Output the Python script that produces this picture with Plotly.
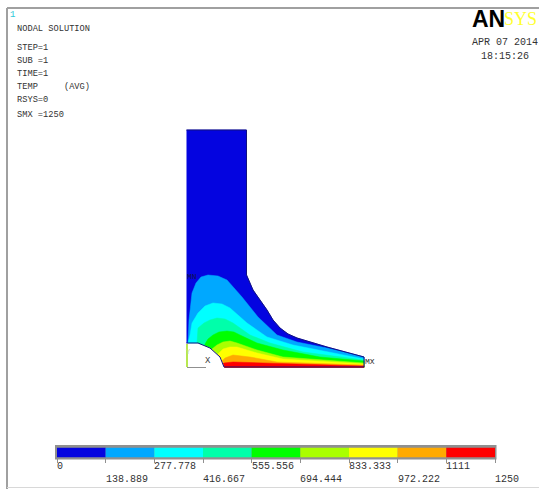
import plotly.graph_objects as go

# Contour levels and colours
level_edges = [0, 138.889, 277.778, 416.667, 555.556, 694.444, 833.333, 972.222, 1111, 1250]
band_colors = ["#0404e0", "#00a8ff", "#00ffff", "#00ffaa", "#00ff00", "#aaff00", "#ffff00", "#ffaa00", "#ff0000"]

# Outer part outline (picture coordinates)
outline_x = [186.5, 246.5, 246.5, 250, 253, 260, 267, 273, 280, 288, 297, 327, 364, 364, 224, 220, 210, 198, 186.5]
outline_y = [130, 130, 275, 283, 290, 300, 310, 320, 328, 334, 338, 347, 357, 367, 367, 357, 348, 343, 343]

# Isotherm boundaries, one per level above the lowest
iso_x = [
    [188, 189, 192, 196, 201, 208, 218, 227, 242, 258, 277, 297, 327, 364],
    [188, 190, 192, 198, 205, 213, 222, 230, 247, 267, 293, 327, 364],
    [197, 198, 204, 210, 217, 225, 233, 250, 270, 303, 364],
    [205, 208, 213, 219, 227, 234, 240, 257, 283, 320, 364],
    [212, 217, 223, 230, 237, 257, 283, 364],
    [218, 223, 230, 237, 257, 283, 364],
    [222, 225, 233, 250, 277, 364],
    [224, 233, 364],
]
iso_y = [
    [343, 320, 293, 283, 277, 275, 276, 280, 297, 317, 335, 342, 348, 357],
    [343, 335, 323, 313, 306, 303, 304, 308, 323, 337, 345, 352, 359],
    [343, 328, 323, 320, 318, 319, 323, 335, 343, 352, 360],
    [344, 339, 335, 332, 331, 332, 335, 343, 350, 357, 361],
    [349, 345, 342, 341, 343, 350, 357, 363],
    [354, 349, 347, 347, 353, 359, 364],
    [361, 358, 355, 357, 362, 365],
    [363, 362, 366],
]

# Uncovered notch under the part
notch_x = [187, 198, 210, 220, 224, 224, 187]
notch_y = [343.5, 343.5, 348, 357, 367, 369, 369]

# Text
header_lines = ["NODAL SOLUTION", "STEP=1", "SUB =1", "TIME=1", "TEMP     (AVG)", "RSYS=0", "SMX =1250"]
header_y = [29, 48, 61, 74, 87, 100, 115]
date_lines = ["APR 07 2014", "18:15:26"]
date_x = [505, 505]
date_y = [42, 56]
scale_labels = ["0", "138.889", "277.778", "416.667", "555.556", "694.444", "833.333", "972.222", "1111", "1250"]

MONO = "Liberation Mono"
TEXT = "#333333"

fig = go.Figure()


def area(xs, ys, color):
    fig.add_trace(go.Scatter(x=xs, y=ys, mode="lines", fill="toself", fillcolor=color,
                             line=dict(color=color, width=0.5), hoverinfo="skip", showlegend=False))


area(outline_x, outline_y, band_colors[0])
for xs, ys, color in zip(iso_x, iso_y, band_colors[1:]):
    area(xs + [364, 187], ys + [367.5, 367.5], color)
# notch and area below the part
area(notch_x, notch_y, "#ffffff")
# Outline
fig.add_trace(go.Scatter(x=outline_x, y=outline_y, mode="lines", line=dict(color="#101080", width=1),
                         hoverinfo="skip", showlegend=False))
# Triad
fig.add_trace(go.Scatter(x=[187, 187], y=[344, 367], mode="lines", line=dict(color="#b8e850", width=2),
                         hoverinfo="skip", showlegend=False))
fig.add_trace(go.Scatter(x=[187, 206], y=[367.5, 367.5], mode="lines", line=dict(color="#909090", width=1),
                         hoverinfo="skip", showlegend=False))

# Colour scale
fig.add_trace(go.Bar(x=[b - a for a, b in zip(level_edges[:-1], level_edges[1:])], base=level_edges[:-1],
                     y=[0] * 9, width=1, orientation="h", marker=dict(color=band_colors, line=dict(width=0)),
                     xaxis="x2", yaxis="y2", hoverinfo="skip", showlegend=False))

anns = []


def label(x, y, text, size=8.7, anchor="left", color=TEXT, xref="x", family=MONO):
    anns.append(dict(x=x, y=y, text=text, xref=xref, yref="y", showarrow=False, xanchor=anchor, yanchor="middle",
                     font=dict(family=family, size=size, color=color), borderpad=0, borderwidth=0))


for line, y in zip(header_lines, header_y):
    label(17, y, line.replace(" ", "&nbsp;"))
label(10, 15, "1", size=9, color="#30c8d8")
for line, x, y in zip(date_lines, date_x, date_y):
    label(x, y, line, size=10, anchor="center")
label(472, 19, "<b>AN</b>", size=23, color="#000000", family="Liberation Sans")
label(504, 19, "SYS", size=18, color="#ffff30", family="Liberation Serif")
label(187, 276, "MN", size=8, color="#101050")
label(205, 361, "X", size=9, color="#404040")
label(186, 352, "Y", size=7, color="#c8e080")
label(365, 361, "MX", size=8, color="#303030")
for i, (val, text) in enumerate(zip(level_edges, scale_labels)):
    label(val, 466 if i % 2 == 0 else 479, text, size=10, xref="x2")

frame = dict(type="line", xref="x", yref="y", line=dict(color="#a0a0a0", width=2))
shapes = [
    dict(frame, x0=7, x1=539, y0=8, y1=8),
    dict(frame, x0=7, x1=7, y0=8, y1=489),
    dict(frame, x0=7, x1=539, y0=487.5, y1=487.5, line=dict(color="#d8d8d8", width=1)),
    dict(type="rect", xref="x", yref="y", x0=56, x1=495.5, y0=446, y1=458.5, layer="below",
         line=dict(color="#909090", width=2), fillcolor="#909090"),
]

fig.update_layout(
    width=539, height=489, margin=dict(l=0, r=0, t=0, b=0), autosize=False,
    paper_bgcolor="white", plot_bgcolor="rgba(0,0,0,0)", annotations=anns, shapes=shapes, showlegend=False,
    xaxis=dict(range=[0, 539], domain=[0, 1], visible=False, fixedrange=True),
    yaxis=dict(range=[489, 0], domain=[0, 1], visible=False, fixedrange=True),
    xaxis2=dict(range=[0, 1250], domain=[57 / 539, 495 / 539], anchor="y2", showgrid=False, zeroline=False,
                tickvals=level_edges, ticktext=[""] * 10, ticks="outside", ticklen=4, tickcolor="#909090",
                showline=False, fixedrange=True),
    yaxis2=dict(range=[-0.5, 0.5], domain=[1 - 457.5 / 489, 1 - 447.5 / 489], anchor="x2", visible=False,
                fixedrange=True),
)
fig.write_html("out.html", config={"displayModeBar": False},
               post_script="document.body.style.margin='0';document.body.style.overflow='hidden';")
